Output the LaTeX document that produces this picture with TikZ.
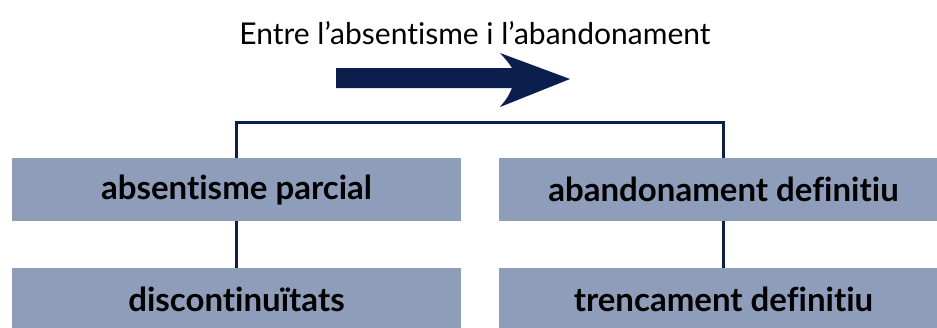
\documentclass[tikz,border=0pt]{standalone}
\usepackage{fontspec}
\setmainfont{Lato}[Ligatures=NoCommon]
\definecolor{navy}{HTML}{0B1E4E}
\definecolor{boxfill}{HTML}{8E9DBA}
\begin{document}
\begin{tikzpicture}[x=1pt,y=-1pt,
  catbox/.style={fill=boxfill,draw=none,minimum width=449pt,minimum height=63pt,inner sep=0pt,
    font=\fontsize{33}{38}\selectfont\bfseries,text=black},
  conn/.style={draw=navy,line width=3pt}]
\useasboundingbox (0,0) rectangle (937,327);
\clip (0,0) rectangle (937,327);
\node[font=\fontsize{30}{36}\selectfont,text=black] (title) at (475,33) {Entre l’absentisme i l’abandonament};
\fill[navy] (336,68) -- (512,68) .. controls (508,62) .. (500,53) -- (570,79) -- (500,107) .. controls (508,97) .. (512,88) -- (336,88) -- cycle;
\node[catbox] (ap) at (236.5,189.5) {absentisme parcial};
\node[catbox] (ad) at (723.5,189.5) {abandonament definitiu};
\node[catbox] (di) at (236.5,299.5) {discontinuïtats};
\node[catbox] (td) at (723.5,299.5) {trencament definitiu};
\coordinate (top) at (480,122);
\draw[conn] (ap.north) |- (top) -| (ad.north);
\draw[conn] (ap.south) -- (di.north);
\draw[conn] (ad.south) -- (td.north);
\end{tikzpicture}
\end{document}
